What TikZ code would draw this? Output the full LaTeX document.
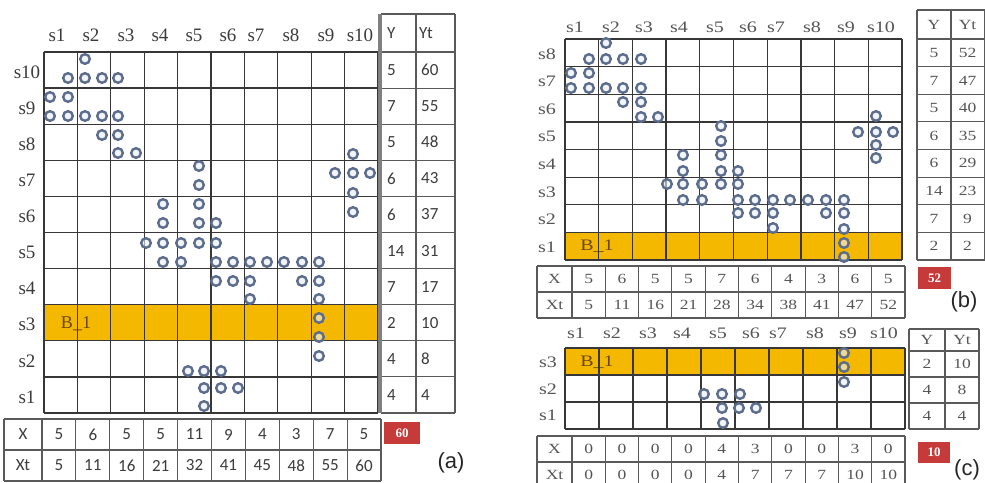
\documentclass[tikz,border=0pt]{standalone}
\usepackage{fontspec}
\usepackage{graphicx}
\setmainfont{Liberation Serif}
\newfontfamily\calib{Carlito}
\newfontfamily\arialf{Liberation Sans}
\definecolor{gold}{RGB}{245,184,0}
\definecolor{ringc}{RGB}{92,108,140}
\definecolor{ringfill}{RGB}{232,238,248}
\definecolor{gridc}{RGB}{55,55,55}
\definecolor{tabc}{RGB}{90,90,90}
\definecolor{redbox}{RGB}{198,58,58}
\definecolor{labc}{RGB}{60,60,60}
\definecolor{labd}{RGB}{85,85,85}
\definecolor{btext}{RGB}{105,70,15}
\newcommand{\myw}[1]{\scalebox{1.25}[1]{#1}}
\begin{document}
\begin{tikzpicture}[x=1pt,y=-1pt,
  gline/.style={draw=gridc,line width=1.25pt},
  tline/.style={draw=tabc,line width=1.1pt},
  ring/.style={draw=ringc,line width=2.4pt,fill=ringfill,fill opacity=0.6},
  laba/.style={text=labc,font=\fontsize{19}{19}\selectfont,inner sep=0pt},
  labb/.style={text=labd,font=\fontsize{16}{16}\selectfont,inner sep=0pt},
  tnuma/.style={text=labc,font=\calib\fontsize{17}{17}\selectfont,inner sep=0pt},
  tnumb/.style={text=labd,font=\fontsize{14}{14}\selectfont,inner sep=0pt},
  rbox/.style={fill=redbox,text=white,font=\bfseries\fontsize{13}{13}\selectfont,inner sep=0pt},
  capt/.style={text=black!85,font=\arialf\fontsize{22}{22}\selectfont,inner sep=0pt},
  btxt/.style={text=btext,inner sep=0pt}
]
\useasboundingbox (0,0) rectangle (985,482);
\fill[white] (0,0) rectangle (985,482);

%%%%%%%%%%%%%%%% Panel (a)
\fill[gold] (44,304.7) rectangle (378,340.8);
\node[btxt,font=\fontsize{18}{18}\selectfont] (aB) at (76,324) {B\_1};
\foreach \i in {0,...,10} \draw[gline] ({44+\i*33.4},52) -- ({44+\i*33.4},413);
\foreach \j in {0,...,10} \draw[gline] (44,{52+\j*36.1}) -- (378,{52+\j*36.1});
\foreach \x [count=\i] in {57,91,126,160,194,228,256,291,326,360}
  \node[laba] (ac\i) at (\x,35) {s\i};
\foreach \k in {1,...,10}
  \node[laba] (ar\k) at (27,{52+(10.5-\k)*36.1+2}) {s\k};
% Y / Yt table
\foreach \j in {0,...,10} \draw[tline] (381,{52+\j*36.1}) -- (455,{52+\j*36.1});
\draw[tline] (381,14) -- (455,14);
\draw[tline] (416,14) -- (416,413);
\draw[tline] (455,14) -- (455,413);
\draw[draw=black!50,line width=3.5pt] (380,14) -- (380,413);
\node[tnuma,anchor=west] (aYh) at (387,33) {Y};
\node[tnuma,anchor=west] (aYth) at (419,33) {Yt};
\foreach \v [count=\i] in {5,7,5,6,6,14,7,2,4,4}
  \node[tnuma,anchor=west] (ay\i) at (387,{52+(\i-0.5)*36.1}) {\v};
\foreach \v [count=\i] in {60,55,48,43,37,31,17,10,8,4}
  \node[tnuma,anchor=west] (ayt\i) at (421,{52+(\i-0.5)*36.1}) {\v};
% X / Xt table
\foreach \yy in {419,450,481} \draw[tline] (4,\yy) -- (381,\yy);
\draw[tline] (4,419) -- (4,481);
\foreach \i in {0,...,10} \draw[tline] ({42+\i*33.9},419) -- ({42+\i*33.9},481);
\node[tnuma] (aXh) at (23,434.5) {X};
\node[tnuma] (aXth) at (23,465.5) {Xt};
\foreach \v [count=\i] in {5,6,5,5,11,9,4,3,7,5}
  \node[tnuma] (ax\i) at ({42+(\i-0.5)*33.9},434.5) {\v};
\foreach \v [count=\i] in {5,11,16,21,32,41,45,48,55,60}
  \node[tnuma] (axt\i) at ({42+(\i-0.5)*33.9},465.5) {\v};
\node[rbox,minimum width=36pt,minimum height=22pt] (ared) at (402,433) {60};
\node[capt] (acap) at (451,463) {(a)};
% circles (a)
\foreach \x/\y in {85/59,68/78,85/78,102/78,118/78,50/97,68/97,
  50/116,68/116,85/116,102/116,118/116,102/135,118/135,118/153,136/153,
  199/166,199/185,199/204,199/223,199/243,163/204,163/223,163/243,163/262,
  146/243,181/243,181/262,216/223,216/243,216/262,216/281,233/262,233/281,
  250/262,250/281,250/299,267/262,284/262,302/262,302/281,
  319/262,319/281,319/299,319/318,319/337,319/356,
  353/154,335/173,353/173,370/173,353/193,353/212,
  188/371,204/371,221/371,204/388,221/388,238/388,204/406}
  \draw[ring] (\x,\y) circle[radius=4.8pt];

%%%%%%%%%%%%%%%% Panel (b)
\fill[gold] (565,232.4) rectangle (902,260);
\node[btxt,font=\fontsize{16}{16}\selectfont] (bB) at (597,246) {\myw{B\_1}};
\foreach \i in {0,...,10} \draw[gline] ({565+\i*33.7},39) -- ({565+\i*33.7},260);
\foreach \j in {0,...,8} \draw[gline] (565,{39+\j*27.625}) -- (902,{39+\j*27.625});
\foreach \x [count=\i] in {575,611,644,679,715,748,776,812,846,881}
  \node[labb] (bc\i) at (\x,27) {\myw{s\i}};
\foreach \k in {1,...,8}
  \node[labb] (br\k) at (547,{39+(8.5-\k)*27.625+1}) {\myw{s\k}};
% Y / Yt table
\foreach \j in {0,...,8} \draw[tline] (917,{39+\j*27.625}) -- (984.5,{39+\j*27.625});
\draw[tline] (917,10) -- (984.5,10);
\foreach \xx in {917,951,984.5} \draw[tline] (\xx,10) -- (\xx,260);
\node[tnumb] (bYh) at (934,24.5) {\myw{Y}};
\node[tnumb] (bYth) at (967.5,24.5) {\myw{Yt}};
\foreach \v [count=\i] in {5,7,5,6,6,14,7,2}
  \node[tnumb] (by\i) at (934,{39+(\i-0.5)*27.625}) {\myw{\v}};
\foreach \v [count=\i] in {52,47,40,35,29,23,9,2}
  \node[tnumb] (byt\i) at (967.5,{39+(\i-0.5)*27.625}) {\myw{\v}};
% X / Xt table
\foreach \yy in {266,292,318} \draw[tline] (537,\yy) -- (905,\yy);
\draw[tline] (537,266) -- (537,318);
\foreach \i in {0,...,10} \draw[tline] ({572+\i*33.3},266) -- ({572+\i*33.3},318);
\node[tnumb] (bXh) at (554.5,279) {\myw{X}};
\node[tnumb] (bXth) at (554.5,305) {\myw{Xt}};
\foreach \v [count=\i] in {5,6,5,5,7,6,4,3,6,5}
  \node[tnumb] (bx\i) at ({572+(\i-0.5)*33.3},279) {\myw{\v}};
\foreach \v [count=\i] in {5,11,16,21,28,34,38,41,47,52}
  \node[tnumb] (bxt\i) at ({572+(\i-0.5)*33.3},305) {\myw{\v}};
\node[rbox,minimum width=33pt,minimum height=22pt] (bred) at (934.5,278) {52};
\node[capt] (bcap) at (964,302) {(b)};
% circles (b)
\foreach \x/\y in {606/43,589/59,606/59,623/59,641/59,571/73,589/73,
  571/88,589/88,606/88,623/88,641/88,623/102,641/102,641/117,658/117,
  721/126,721/141,721/155,721/171,721/184,683/155,683/171,683/184,683/200,
  667/184,702/184,702/200,738/171,738/184,738/200,738/213,755/200,755/213,
  773/200,773/213,773/228,790/200,808/200,826/200,826/213,
  844/200,844/213,844/229,844/243,844/257,858/132,
  876/116,876/132,876/145,876/158,893/132}
  \draw[ring] (\x,\y) circle[radius=4.8pt];

%%%%%%%%%%%%%%%% Panel (c)
\fill[gold] (565,348) rectangle (905,375);
\node[btxt,font=\fontsize{16}{16}\selectfont] (cB) at (597,362) {\myw{B\_1}};
\foreach \i in {0,...,10} \draw[gline] ({565+\i*34},348) -- ({565+\i*34},429);
\foreach \yy in {348,375,402,429} \draw[gline] (565,\yy) -- (905,\yy);
\foreach \x [count=\i] in {576,612,648,682,718,751,778,815,848,884}
  \node[labb] (cc\i) at (\x,333) {\myw{s\i}};
\node[labb] (cr3) at (548,362) {\myw{s3}};
\node[labb] (cr2) at (548,389) {\myw{s2}};
\node[labb] (cr1) at (548,415) {\myw{s1}};
% Y / Yt table
\foreach \yy in {329,351,377,403,429} \draw[tline] (909,\yy) -- (979,\yy);
\foreach \xx in {909,945,979} \draw[tline] (\xx,329) -- (\xx,429);
\node[tnumb] (cYh) at (927,340) {\myw{Y}};
\node[tnumb] (cYth) at (962,340) {\myw{Yt}};
\foreach \v/\yy [count=\i] in {2/364,4/390,4/416}
  \node[tnumb] (cy\i) at (927,\yy) {\myw{\v}};
\foreach \v/\yy [count=\i] in {10/364,8/390,4/416}
  \node[tnumb] (cyt\i) at (962,\yy) {\myw{\v}};
% X / Xt table
\foreach \yy in {436,462,488} \draw[tline] (537,\yy) -- (905,\yy);
\draw[tline] (537,436) -- (537,488);
\foreach \i in {0,...,10} \draw[tline] ({572+\i*33.3},436) -- ({572+\i*33.3},488);
\node[tnumb] (cXh) at (554.5,449) {\myw{X}};
\node[tnumb] (cXth) at (554.5,475) {\myw{Xt}};
\foreach \v [count=\i] in {0,0,0,0,4,3,0,0,3,0}
  \node[tnumb] (cx\i) at ({572+(\i-0.5)*33.3},449) {\myw{\v}};
\foreach \v [count=\i] in {0,0,0,0,4,7,7,7,10,10}
  \node[tnumb] (cxt\i) at ({572+(\i-0.5)*33.3},475) {\myw{\v}};
\node[rbox,minimum width=32pt,minimum height=21pt] (cred) at (934,452.5) {10};
\node[capt] (ccap) at (967,470) {(c)};
% circles (c)
\foreach \x/\y in {844/353,844/367,844/382,704/394,722/394,740/394,
  722/408,739/408,756/408,723/423}
  \draw[ring] (\x,\y) circle[radius=4.8pt];
\end{tikzpicture}
\end{document}
